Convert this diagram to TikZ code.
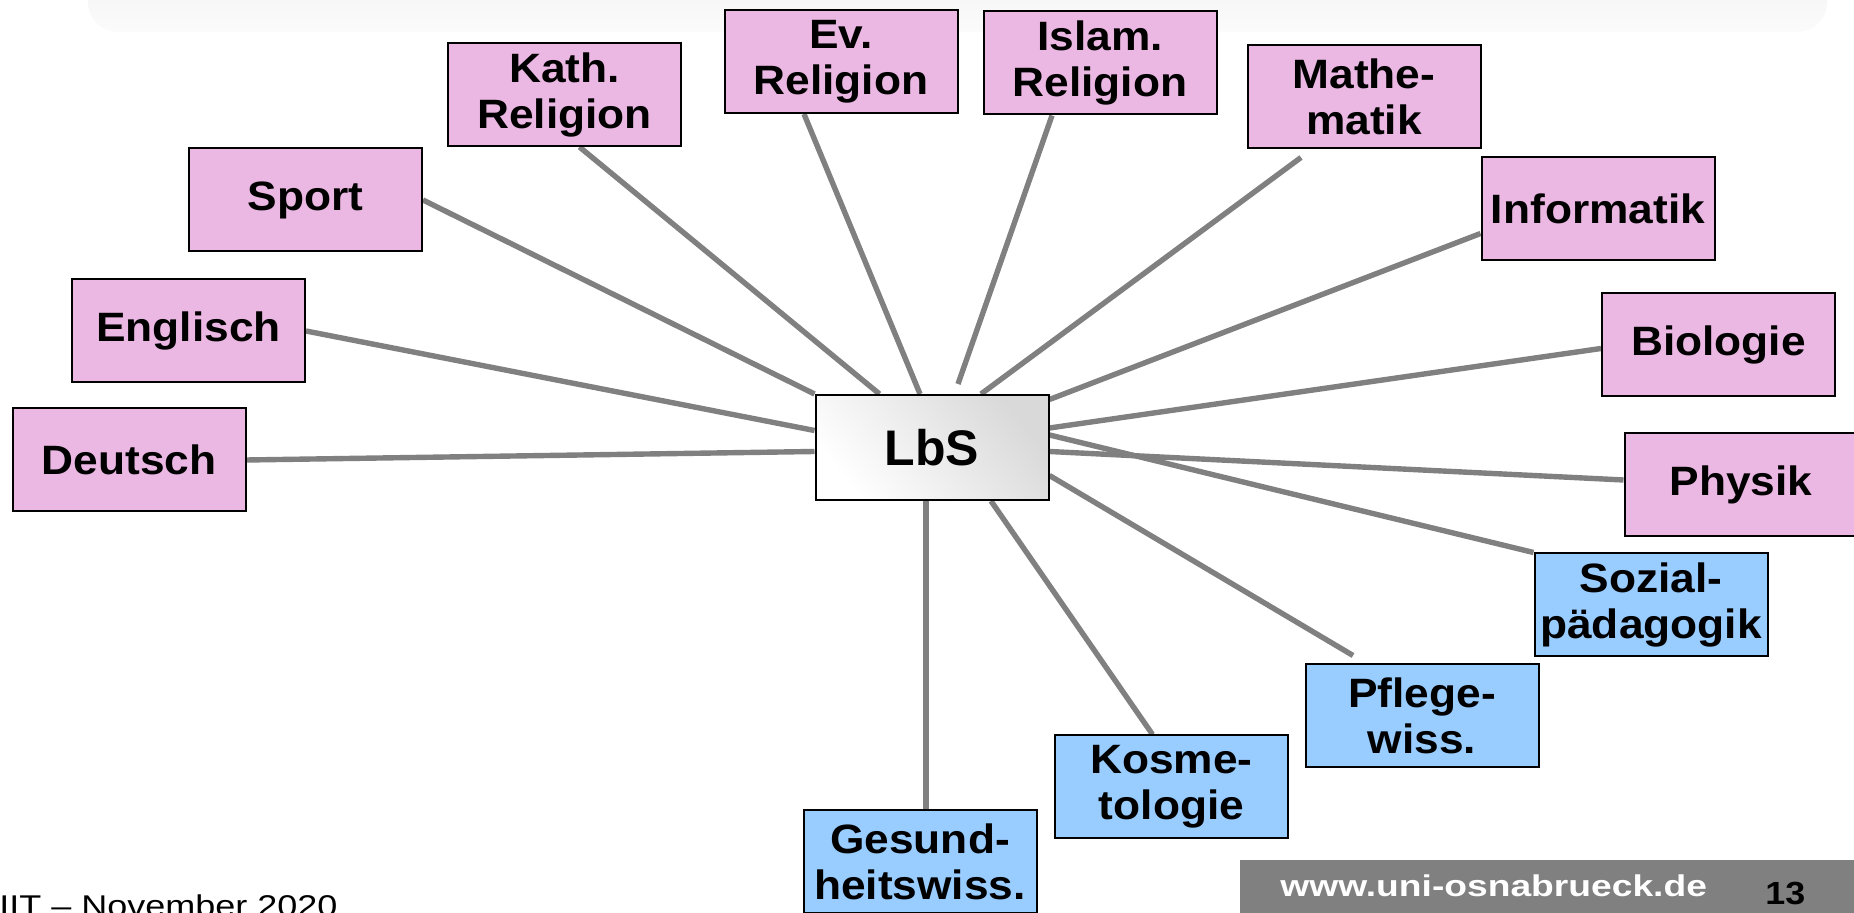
\documentclass[tikz,border=0pt]{standalone}
\usepackage{fontspec}
\setmainfont{Liberation Sans}
\newfontfamily\boxfont[FakeStretch=1.08]{Liberation Sans}
\newfontfamily\urlfont[FakeStretch=1.24]{Liberation Sans}
\newfontfamily\pagefont[FakeStretch=1.12]{Liberation Sans}
\newfontfamily\datefont[FakeStretch=1.2]{Liberation Sans}
\usetikzlibrary{calc,backgrounds}
\definecolor{pinkfill}{RGB}{235,183,227}
\definecolor{bluefill}{RGB}{153,204,255}
\definecolor{linkgray}{RGB}{128,128,128}
\begin{document}
\begin{tikzpicture}[x=0.5pt,y=-0.5pt,
  subj/.style={draw=black, line width=1pt, minimum width=116.5pt, minimum height=51.5pt, inner sep=0pt, align=center, font=\boxfont\bfseries\fontsize{20.5}{23}\selectfont},
  pinkbox/.style={subj, fill=pinkfill},
  bluebox/.style={subj, fill=bluefill},
  centerbox/.style={draw=black, line width=1pt, minimum width=116.5pt, minimum height=52.5pt, inner sep=0pt, shading=axis, top color=black!15, bottom color=white, shading angle=-50, font=\bfseries\fontsize{25}{30}\selectfont},
  conn/.style={draw=linkgray, line width=2.7pt},
  foot/.style={anchor=base west, inner sep=0pt},
]
\useasboundingbox (0,0) rectangle (1854,913);

% nodes
\node[pinkbox] (deutsch) at (129,460) {Deutsch};
\node[pinkbox] (englisch) at (188.5,331) {Englisch};
\node[pinkbox] (sport) at (305.5,200) {Sport};
\node[pinkbox] (kath) at (564.5,94.5) {Kath.\\Religion};
\node[pinkbox] (ev) at (841,61.5) {Ev.\\Religion};
\node[pinkbox] (islam) at (1100,63) {Islam.\\Religion};
\node[pinkbox] (mathe) at (1364,97) {Mathe-\\matik};
\node[pinkbox] (info) at (1598,208.5) {Informatik};
\node[pinkbox] (bio) at (1718.5,345) {Biologie};
\node[pinkbox] (physik) at (1741,485) {Physik};
\node[bluebox] (sozial) at (1651,605) {Sozial-\\pädagogik};
\node[bluebox] (pflege) at (1422,716) {Pflege-\\wiss.};
\node[bluebox] (kosmet) at (1171.5,787) {Kosme-\\tologie};
\node[bluebox] (gesund) at (920,861.5) {Gesund-\\heitswiss.};
\node[centerbox] (lbs) at (932,447.5) {LbS};

% footer
\fill[linkgray] (1240,860) rectangle (1854,913);
\node[foot, text=white, font=\urlfont\bfseries\fontsize{15}{18}\selectfont] (url) at (1280,897) {www.uni-osnabrueck.de};
\node[foot, text=black, font=\pagefont\bfseries\fontsize{16}{19}\selectfont] (page) at (1765,905) {13};
\node[foot, text=black, font=\datefont\fontsize{15}{18}\selectfont] (date) at (-1,917) {IIT – November 2020};

\begin{pgfonlayer}{background}
\fill[white] (0,0) rectangle (1854,913);
\shade[top color=black!5, bottom color=black!1.5, rounded corners=15pt] (88,-40) rectangle (1827,32);
\draw[conn] (deutsch.east) -- ($(lbs.west)+(0,4)$);
\draw[conn] (englisch.east) -- ($(lbs.west)+(0,-17)$);
\draw[conn] (sport.east) -- (lbs.north west);
\draw[conn] ($(kath.south)+(15,0)$) -- ($(lbs.north west)+(65,0)$);
\draw[conn] ($(ev.south)+(-37,0)$) -- ($(lbs.north)+(-12,0)$);
\draw[conn] ($(islam.south)+(-48,0)$) -- ($(lbs.north)+(26,-10)$);
\draw[conn] ($(mathe.south)+(-63,8)$) -- ($(lbs.north)+(49,0)$);
\draw[conn] ($(info.west)+(0,25)$) -- ($(lbs.east)+(0,-48)$);
\draw[conn] ($(bio.west)+(0,3.5)$) -- ($(lbs.east)+(0,-19.5)$);
\draw[conn] ($(physik.west)+(0,-5)$) -- ($(lbs.east)+(0,4)$);
\draw[conn] (sozial.north west) -- ($(lbs.east)+(0,-12.5)$);
\draw[conn] ($(pflege.north)+(-69,-8)$) -- ($(lbs.east)+(0,28)$);
\draw[conn] ($(kosmet.north)+(-19,0)$) -- ($(lbs.south)+(59,0)$);
\draw[conn] ($(gesund.north)+(6,0)$) -- ($(lbs.south)+(-6,0)$);
\end{pgfonlayer}
\end{tikzpicture}
\end{document}
